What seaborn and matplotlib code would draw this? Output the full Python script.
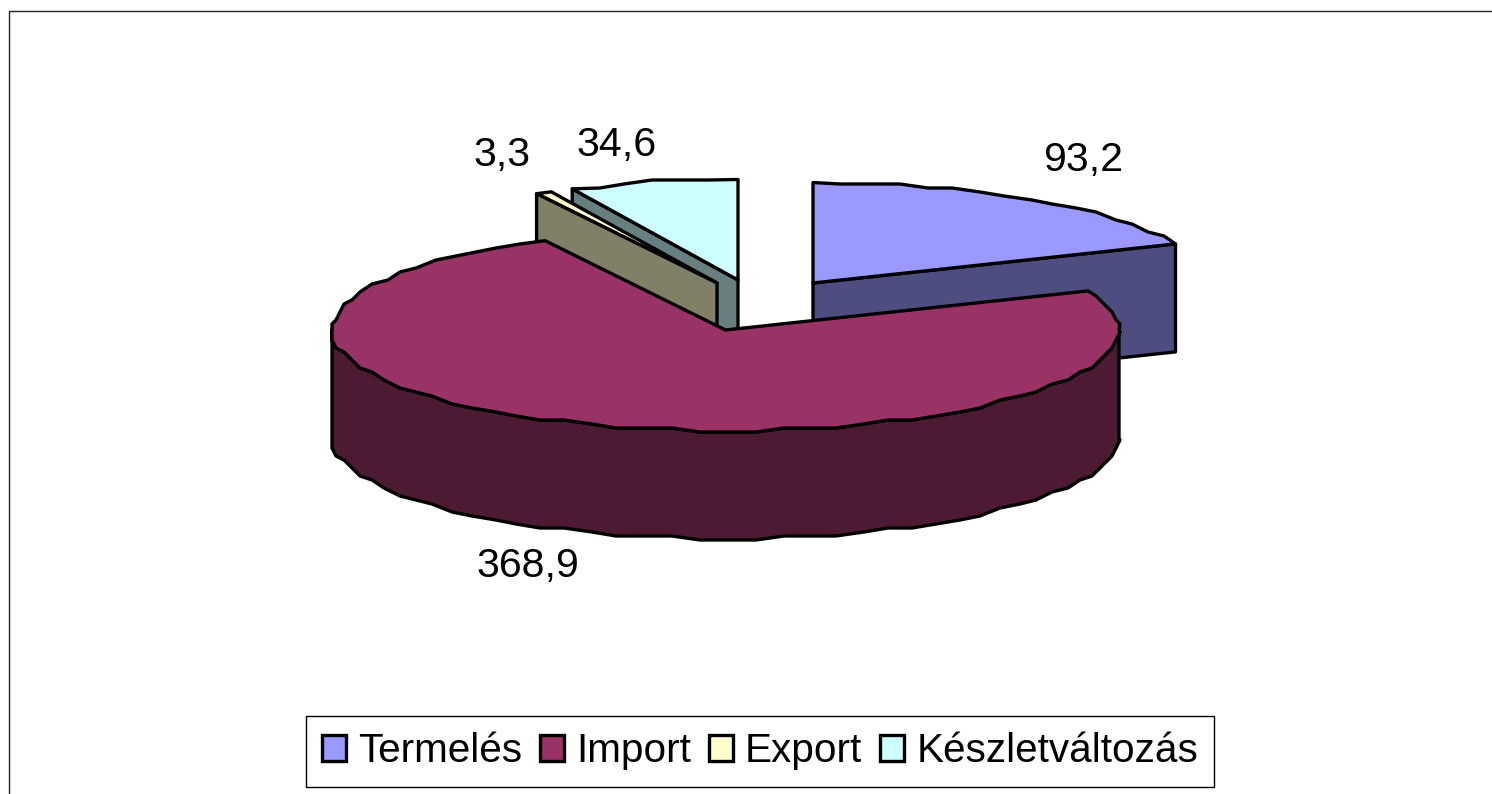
import numpy as np
import matplotlib
matplotlib.use("Agg")
import matplotlib.pyplot as plt
from matplotlib.patches import Polygon, Patch
import seaborn as sns

categories = ["Termelés", "Import", "Export", "Készletváltozás"]
values = [93.2, 368.9, 3.3, 34.6]
value_labels = ["93,2", "368,9", "3,3", "34,6"]
hex_colors = ["#9999FF", "#993366", "#FFFFCC", "#CCFFFF"]

sns.set_theme(style="white")
plt.rcParams["font.family"] = ["Liberation Sans", "DejaVu Sans"]
palette = sns.color_palette(hex_colors)
dark = [tuple(c * 0.5 for c in col) for col in palette]

W, H = 1492, 794
fig = plt.figure(figsize=(W / 100, H / 100), dpi=100, facecolor="white")
ax = fig.add_axes([0, 0, 1, 1])
ax.set_xlim(0, W)
ax.set_ylim(H, 0)
ax.axis("off")

# projection of the exploded pie
RX, RY, DEPTH = 393.5, 100.5, 108
apex = [(813, 283), (725.5, 330), (717, 283), (738, 280)]
label_pos = [(1083, 160), (528, 566), (502, 155), (617, 145)]
LW = 2.4
FS = 29.6
LEG_FS = 29.2

fractions = np.array(values) / np.sum(values)
edges = np.concatenate([[0], np.cumsum(fractions) * 360])


def arc_angles(a0, a1):
    n = max(2, int(abs(a1 - a0) / 4.0) + 1)
    a = np.linspace(a0, a1, n)
    extra = [v for v in (90.0, 270.0) if a0 < v < a1]
    return np.unique(np.concatenate([a, extra]))


def arc(c, angles, snap=4.0):
    t = np.radians(angles)
    x = c[0] + RX * np.sin(t)
    y = c[1] - RY * np.cos(t)
    xs, ys = np.round(x / snap) * snap, np.round(y / snap) * snap
    keep = np.isin(angles, [angles[0], angles[-1], 90.0, 270.0])
    xs[keep], ys[keep] = x[keep], y[keep]
    return np.column_stack([xs, ys])


def poly(pts, color, z):
    ax.add_patch(Polygon(pts, closed=True, facecolor=color, edgecolor="black",
                         linewidth=LW, joinstyle="round", zorder=z))


def side_wall(i, angle, z):
    c = np.array(apex[i], float)
    t = np.radians(angle)
    rim = c + [RX * np.sin(t), -RY * np.cos(t)]
    down = np.array([0, DEPTH])
    poly([c, rim, rim + down, c + down], dark[i], z)


def top(i, z):
    pts = np.vstack([[apex[i]], arc(apex[i], arc_angles(edges[i], edges[i + 1]))])
    poly(pts, palette[i], z)


# back to front: Készletváltozás, Export, Termelés, Import
side_wall(3, edges[3], 1)
top(3, 2)
top(2, 3)
side_wall(2, edges[2], 4)
side_wall(0, edges[1], 5)
top(0, 6)

angles = arc_angles(edges[1], edges[2])
front = arc(apex[1], angles)[(angles >= 90) & (angles <= 270)]
wall = np.vstack([front, front[::-1] + [0, DEPTH]])
poly(wall, dark[1], 7)
top(1, 8)

for (x, y), s in zip(label_pos, value_labels):
    ax.text(x, y, s, fontsize=FS, color="black", ha="center", va="center", zorder=10)

# outer chart border (open towards the image edge)
ax.plot([8.5, 8.5, W], [H, 10.5, 10.5], color="#222222", lw=1.0, zorder=0)

handles = [Patch(facecolor=c, edgecolor="black", linewidth=LW) for c in palette]
leg = ax.legend(handles, categories, ncol=4, loc="center",
                bbox_to_anchor=(760 / W, 1 - 751.5 / H), fontsize=LEG_FS,
                frameon=True, fancybox=False, edgecolor="black", framealpha=1,
                borderpad=0.40, borderaxespad=0, handlelength=0.6, handleheight=0.6,
                handletextpad=0.29, columnspacing=0.44, labelcolor="black")
leg.get_frame().set_linewidth(1.0)

fig.savefig("out.png", dpi=100, facecolor="white")
